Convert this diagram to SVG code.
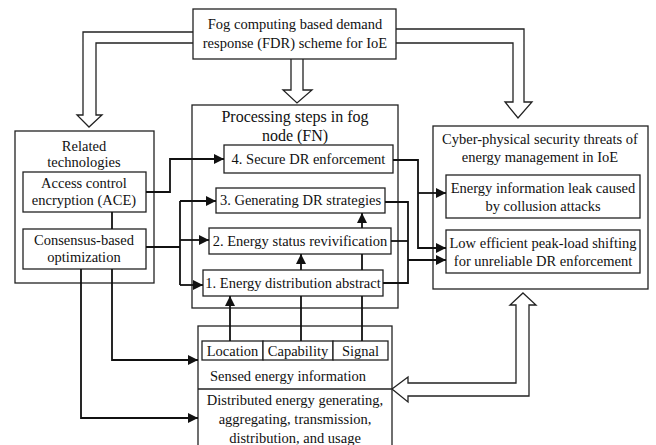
<svg xmlns="http://www.w3.org/2000/svg" width="656" height="445" viewBox="0 0 656 445">
<defs>
<style>
.box{fill:#fff;stroke:#222;stroke-width:1.3}
.hol{fill:#fff;stroke:#222;stroke-width:1.3;stroke-linejoin:miter}
.t{font-family:"Liberation Serif","Times New Roman",serif;font-size:14.5px;fill:#111;text-anchor:middle}
.tl{font-size:16px}
.c{fill:none;stroke:#111;stroke-width:1.8}
</style>
<marker id="ah" viewBox="0 0 10 10" refX="10" refY="5" markerWidth="10" markerHeight="10" markerUnits="userSpaceOnUse" orient="auto">
<path d="M0,0 L10,5 L0,10 z" fill="#111"/>
</marker>
</defs>
<rect width="656" height="445" fill="#fff"/>

<g id="hollow-arrows">
<path class="hol" d="M193,32 H83 V115 H77 L89,127 L102,115 H96 V43 H193"/>
<path class="hol" d="M396,29 H524 V102 H532 L518,118 L505,102 H513 V43 H396"/>
<path class="hol" d="M291,59 V90 H283 L297,103 L312,90 H303 V59"/>
<path class="hol" d="M523,293 L536,305 H529 V396 H408 V402 L392,389 L408,377 V383 H516 V305 H510 Z"/>
</g>

<g id="fdr">
<rect class="box" x="193" y="9" width="203" height="50"/>
<text class="t" x="295" y="29">Fog computing based demand</text>
<text class="t" x="295" y="48">response (FDR) scheme for IoE</text>
</g>

<g id="related">
<rect class="box" x="15" y="131" width="139" height="152"/>
<text class="t" x="84" y="151">Related</text>
<text class="t" x="84" y="167">technologies</text>
</g>
<g id="ace">
<rect class="box" x="23" y="172" width="123" height="40"/>
<text class="t" x="84" y="188">Access control</text>
<text class="t" x="84" y="205">encryption (ACE)</text>
</g>
<g id="consensus">
<rect class="box" x="23" y="229" width="123" height="40"/>
<text class="t" x="84" y="245">Consensus-based</text>
<text class="t" x="84" y="262">optimization</text>
</g>

<g id="processing">
<rect class="box" x="192" y="105" width="206" height="203"/>
<text class="t tl" x="295" y="122">Processing steps in fog</text>
<text class="t tl" x="295" y="141">node (FN)</text>
</g>
<g id="step4">
<rect class="box" x="224" y="145" width="169" height="28"/>
<text class="t" x="308.5" y="164">4. Secure DR enforcement</text>
</g>
<g id="step3">
<rect class="box" x="216" y="188" width="169" height="25"/>
<text class="t" x="300.5" y="205">3. Generating DR strategies</text>
</g>
<g id="step2">
<rect class="box" x="209" y="228" width="182" height="26"/>
<text class="t" x="300" y="246">2. Energy status revivification</text>
</g>
<g id="step1">
<rect class="box" x="203" y="270" width="180" height="26"/>
<text class="t" x="293" y="288">1. Energy distribution abstract</text>
</g>

<g id="cyber">
<rect class="box" x="433" y="126" width="215" height="163"/>
<text class="t" x="540" y="144">Cyber-physical security threats of</text>
<text class="t" x="540" y="162">energy management in IoE</text>
</g>
<g id="leak">
<rect class="box" x="446" y="175" width="194" height="43"/>
<text class="t" x="543" y="193">Energy information leak caused</text>
<text class="t" x="543" y="211">by collusion attacks</text>
</g>
<g id="lowefficient">
<rect class="box" x="446" y="230" width="194" height="43"/>
<text class="t" x="543" y="248">Low efficient peak-load shifting</text>
<text class="t" x="543" y="266">for unreliable DR enforcement</text>
</g>

<g id="sensed">
<rect class="box" x="198" y="326" width="194" height="130"/>
<line class="box" x1="198" y1="389" x2="392" y2="389"/>
<text class="t" x="288" y="381">Sensed energy information</text>
<text class="t" x="295" y="405">Distributed energy generating,</text>
<text class="t" x="295" y="424">aggregating, transmission,</text>
<text class="t" x="295" y="443">distribution, and usage</text>
</g>
<g id="location">
<rect class="box" x="202" y="341" width="61" height="19"/>
<text class="t" x="232.5" y="356">Location</text>
</g>
<g id="capability">
<rect class="box" x="263" y="341" width="70" height="19"/>
<text class="t" x="298" y="356">Capability</text>
</g>
<g id="signal">
<rect class="box" x="333" y="341" width="55" height="19"/>
<text class="t" x="360.5" y="356">Signal</text>
</g>

<g id="connectors">
<path class="c" d="M146,192 H170 V159 H224" marker-end="url(#ah)"/>
<path class="c" d="M146,247 H180"/>
<path class="c" d="M180,201 V285"/>
<path class="c" d="M180,201 H216" marker-end="url(#ah)"/>
<path class="c" d="M180,240 H209" marker-end="url(#ah)"/>
<path class="c" d="M180,285 H203" marker-end="url(#ah)"/>
<path class="c" d="M112,212 V229"/>
<path class="c" d="M112,269 V360 H198" marker-end="url(#ah)"/>
<path class="c" d="M81,269 V418 H198" marker-end="url(#ah)"/>
<path class="c" d="M230,341 V296" marker-end="url(#ah)"/>
<path class="c" d="M301,341 V296"/>
<path class="c" d="M301,270 V254" marker-end="url(#ah)"/>
<path class="c" d="M362,341 V296"/>
<path class="c" d="M362,270 V254"/>
<path class="c" d="M362,228 V213" marker-end="url(#ah)"/>
<path class="c" d="M393,160 H418 V248 H446" marker-end="url(#ah)"/>
<path class="c" d="M418,193 H446" marker-end="url(#ah)"/>
<path class="c" d="M385,202 H408 V283 H383"/>
<path class="c" d="M391,241 H408"/>
<path class="c" d="M408,260 H446" marker-end="url(#ah)"/>
</g>
</svg>
